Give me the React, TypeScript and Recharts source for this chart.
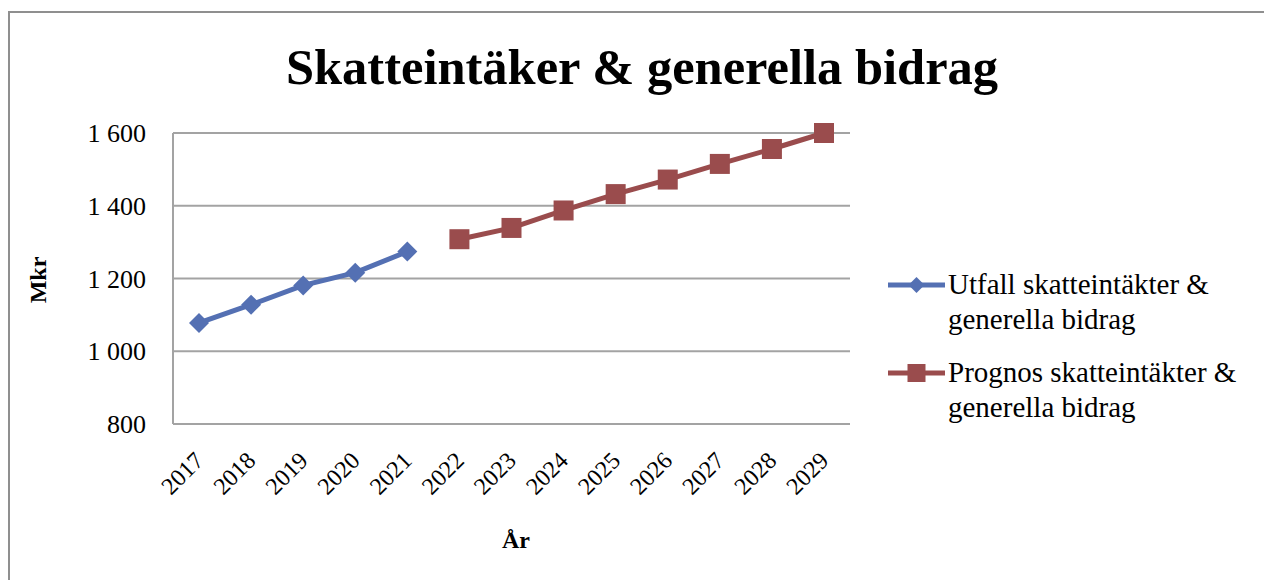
import React from 'react'
import { LineChart, Line, XAxis, YAxis, CartesianGrid, Legend } from 'recharts'

const years = ['2017', '2018', '2019', '2020', '2021', '2022', '2023', '2024', '2025', '2026', '2027', '2028', '2029']
const utfall = [1078, 1128, 1181, 1216, 1274, null, null, null, null, null, null, null, null]
const prognos = [null, null, null, null, null, 1308, 1339, 1387, 1432, 1472, 1515, 1556, 1600]
const yTicks = [800, 1000, 1200, 1400, 1600]

const BLUE = '#5470b3'
const RED = '#9a4c4d'
const GRID = '#a3a3a3'
const FONT = "'Liberation Serif', 'Times New Roman', serif"

const data = years.map((year, i) => ({ year, utfall: utfall[i], prognos: prognos[i] }))

const fmtTick = (v: number) => (v >= 1000 ? `${Math.floor(v / 1000)} ${String(v % 1000).padStart(3, '0')}` : String(v))

function DiamondDot(props: any) {
  const { cx, cy, value } = props
  if (value == null || cx == null || cy == null) return null
  const r = 10
  return <path d={`M${cx},${cy - r}L${cx + r},${cy}L${cx},${cy + r}L${cx - r},${cy}Z`} fill={BLUE} />
}

function SquareDot(props: any) {
  const { cx, cy, value } = props
  if (value == null || cx == null || cy == null) return null
  return <rect x={cx - 10} y={cy - 10} width={20} height={20} fill={RED} />
}

function YearTick(props: any) {
  const { x, y, payload } = props
  const ax = x + 6
  const ay = y + 38
  return (
    <text
      x={ax}
      y={ay}
      transform={`rotate(-45, ${ax}, ${ay})`}
      textAnchor="end"
      fontSize={24}
      fontFamily={FONT}
      fill="#000"
    >
      {payload.value}
    </text>
  )
}

function ValueTick(props: any) {
  const { x, y, payload } = props
  return (
    <text x={x} y={y} dy="0.35em" textAnchor="end" fontSize={26} fontFamily={FONT} fill="#000">
      {fmtTick(payload.value)}
    </text>
  )
}

const legendItems = [
  { key: 'utfall', color: BLUE, shape: 'diamond', lines: ['Utfall skatteintäkter &', 'generella bidrag'] },
  { key: 'prognos', color: RED, shape: 'square', lines: ['Prognos skatteintäkter &', 'generella bidrag'] },
]

function LegendContent() {
  return (
    <div style={{ fontFamily: FONT, fontSize: 29, color: '#000', lineHeight: '35px' }}>
      {legendItems.map((item, idx) => (
        <div key={item.key} style={{ display: 'flex', alignItems: 'flex-start', marginTop: idx ? 18 : 0 }}>
          <svg width={60} height={35} style={{ flexShrink: 0 }}>
            <line x1={0} y1={18} x2={57} y2={18} stroke={item.color} strokeWidth={5} />
            {item.shape === 'diamond' ? (
              <path d="M28.5,10L36.5,18L28.5,26L20.5,18Z" fill={item.color} />
            ) : (
              <rect x={19.5} y={9} width={18} height={18} fill={item.color} />
            )}
          </svg>
          <div>
            {item.lines.map(l => (
              <div key={l} style={{ whiteSpace: 'nowrap' }}>{l}</div>
            ))}
          </div>
        </div>
      ))}
    </div>
  )
}

export default function App() {
  return (
    <div style={{ position: 'absolute', left: 0, top: 0, width: 1264, height: 580, background: '#fff', overflow: 'hidden' }}>
      <div
        style={{
          position: 'absolute',
          left: 8,
          top: 11,
          width: 1400,
          height: 700,
          border: '2px solid #8f8f8f',
        }}
      />
      <LineChart
        width={1264}
        height={580}
        data={data}
        margin={{ top: 133, right: 414, bottom: 116, left: 113 }}
        style={{ position: 'absolute', left: 0, top: 0 }}
      >
        <CartesianGrid vertical={false} stroke={GRID} strokeWidth={2} />
        <XAxis
          dataKey="year"
          height={40}
          padding={{ left: 26, right: 26 }}
          tick={<YearTick />}
          tickLine={false}
          tickSize={0}
          tickMargin={0}
          axisLine={{ stroke: GRID, strokeWidth: 2 }}
          interval={0}
        />
        <YAxis
          width={60}
          domain={[800, 1600]}
          ticks={yTicks}
          tickLine={false}
          tickSize={0}
          tickMargin={27}
          axisLine={{ stroke: GRID, strokeWidth: 2 }}
          tick={<ValueTick />}
          interval={0}
        />
        <Legend
          layout="vertical"
          align="center"
          verticalAlign="middle"
          content={<LegendContent />}
          wrapperStyle={{ position: 'absolute', left: 888, top: 267, width: 370 }}
        />
        <Line
          dataKey="utfall"
          name="Utfall skatteintäkter & generella bidrag"
          stroke={BLUE}
          strokeWidth={5}
          dot={<DiamondDot />}
          activeDot={false}
          isAnimationActive={false}
        />
        <Line
          dataKey="prognos"
          name="Prognos skatteintäkter & generella bidrag"
          stroke={RED}
          strokeWidth={5}
          dot={<SquareDot />}
          activeDot={false}
          isAnimationActive={false}
        />
      </LineChart>
      <svg width={1264} height={580} style={{ position: 'absolute', left: 0, top: 0, pointerEvents: 'none' }}>
        <text x={642} y={84} textAnchor="middle" fontFamily={FONT} fontWeight="bold" fontSize={50.5} fill="#000">
          Skatteintäker &amp; generella bidrag
        </text>
        <text
          x={46}
          y={280}
          transform="rotate(-90, 46, 280)"
          textAnchor="middle"
          fontFamily={FONT}
          fontWeight="bold"
          fontSize={24}
          fill="#000"
        >
          Mkr
        </text>
        <text x={516} y={548} textAnchor="middle" fontFamily={FONT} fontWeight="bold" fontSize={24} fill="#000">
          År
        </text>
      </svg>
    </div>
  )
}
